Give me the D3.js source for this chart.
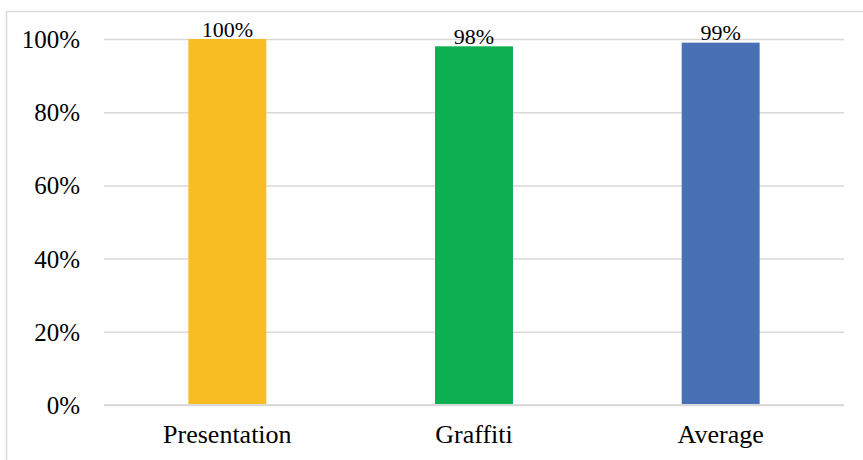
<!DOCTYPE html>
<html><head><meta charset="utf-8">
<script src="https://cdn.jsdelivr.net/npm/d3@7"></script>
<style>html,body{margin:0;padding:0;background:#fff;}svg{display:block;}</style>
</head><body>
<svg id="c" width="863" height="460"></svg>
<script>
const categories = ["Presentation", "Graffiti", "Average"];
const values = [1.00, 0.98, 0.99];
const labels = ["100%", "98%", "99%"];
const colors = ["#F8BD22", "#0DAF50", "#4870B5"];
const yTicks = [0, 0.2, 0.4, 0.6, 0.8, 1.0];

const font = "Liberation Serif, Times New Roman, serif";
const svg = d3.select("#c").attr("font-family", font);
// frame
svg.append("rect").attr("x", 6.5).attr("y", 11.5).attr("width", 900).attr("height", 500)
  .attr("fill", "none").attr("stroke", "#d9d9d9").attr("stroke-width", 1.5);

const m = {left: 104, right: 844, top: 39, bottom: 405};
const x = d3.scaleBand().domain(categories).range([m.left, m.right]).paddingInner(0.684).paddingOuter(0.342);
const y = d3.scaleLinear().domain([0, 1]).range([m.bottom, m.top]);

const yAxis = d3.axisLeft(y).tickValues(yTicks).tickFormat(d3.format(".0%")).tickSize(-(m.right - m.left)).tickPadding(24);
const gy = svg.append("g").attr("transform", `translate(${m.left},0)`).call(yAxis).attr("font-family", font);
gy.select(".domain").remove();
gy.selectAll(".tick line").attr("stroke", "#d9d9d9").attr("stroke-width", 1.5);
gy.selectAll(".tick text").attr("font-family", font).attr("font-size", 25).attr("fill", "#000").attr("dy", "0.34em");

svg.append("g").selectAll("rect").data(values).join("rect")
  .attr("x", (d, i) => x(categories[i]))
  .attr("width", x.bandwidth())
  .attr("y", d => y(d))
  .attr("height", d => y(0) - y(d))
  .attr("fill", (d, i) => colors[i]);

svg.append("line").attr("x1", m.left).attr("x2", m.right).attr("y1", y(0)).attr("y2", y(0))
  .attr("stroke", "#d9d9d9").attr("stroke-width", 2);

svg.append("g").selectAll("text").data(values).join("text")
  .attr("x", (d, i) => x(categories[i]) + x.bandwidth() / 2)
  .attr("y", d => y(d) - 2.5)
  .attr("text-anchor", "middle")
  .attr("font-family", font).attr("font-size", 22).attr("fill", "#000")
  .text((d, i) => labels[i]);

const xAxis = d3.axisBottom(x).tickSize(0).tickPadding(20);
const gx = svg.append("g").attr("transform", `translate(0,${m.bottom})`).call(xAxis).attr("font-family", font);
gx.select(".domain").remove();
gx.selectAll(".tick text").attr("font-family", font).attr("font-size", 26).attr("fill", "#000");
</script>
</body></html>
